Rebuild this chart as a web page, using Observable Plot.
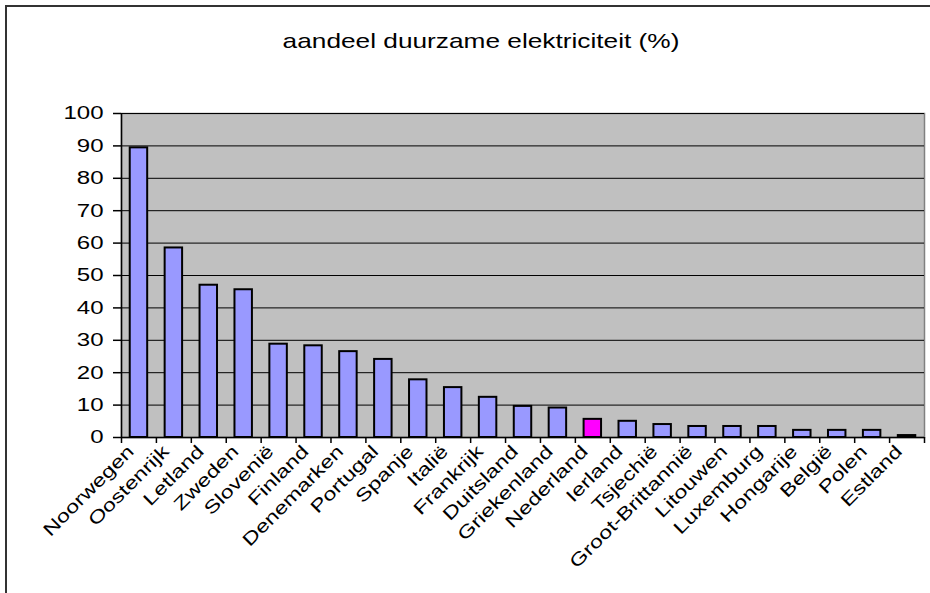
<!DOCTYPE html>
<html>
<head>
<meta charset="utf-8">
<script src="https://cdn.jsdelivr.net/npm/d3@7"></script>
<script src="https://cdn.jsdelivr.net/npm/@observablehq/plot@0.6"></script>
<style>
  html, body { margin: 0; padding: 0; background: #fff; overflow: hidden; }
  #wrap { position: relative; width: 930px; height: 593px; }
  #border { position: absolute; left: 5px; top: 5px; width: 1000px; height: 1000px;
            border-left: 2px solid #333; border-top: 2px solid #333; }
  #chart { position: absolute; left: 0; top: 0; }
</style>
</head>
<body>
<div id="wrap"><div id="border"></div><div id="chart"></div></div>
<script>
const title = "aandeel duurzame elektriciteit (%)";
const countries = ["Noorwegen","Oostenrijk","Letland","Zweden","Slovenië","Finland","Denemarken","Portugal","Spanje","Italië","Frankrijk","Duitsland","Griekenland","Nederland","Ierland","Tsjechië","Groot-Brittannië","Litouwen","Luxemburg","Hongarije","België","Polen","Estland"];
const values = [89.4, 58.5, 47.0, 45.6, 28.8, 28.3, 26.5, 24.1, 17.8, 15.4, 12.4, 9.6, 9.1, 5.6, 5.0, 4.0, 3.4, 3.4, 3.4, 2.2, 2.2, 2.2, 0.6];
const highlighted = ["Nederland"];
const yTicks = [0, 10, 20, 30, 40, 50, 60, 70, 80, 90, 100];

const data = countries.map((c, i) => ({country: c, value: values[i]}));

const W = 930, H = 593;
const mL = 121, mR = 6, mT = 113, mB = 156;
const n = countries.length;
const step = (W - mL - mR) / n;
const font = "'Liberation Sans', Arial, sans-serif";

const chart = Plot.plot({
  width: W, height: H,
  marginLeft: mL, marginRight: mR, marginTop: mT, marginBottom: mB,
  style: {fontFamily: font, fontSize: "17px", color: "#000", background: "transparent", overflow: "visible"},
  x: {type: "band", domain: countries, padding: 0.5, round: false,
      range: [mL - step / 4, W - mR + step / 4], label: null},
  y: {domain: [0, 100], ticks: yTicks, label: null},
  marks: [
    Plot.frame({fill: "#C0C0C0", stroke: "#808080", strokeWidth: 1.5}),
    Plot.ruleY(yTicks.filter(d => d > 0), {stroke: "#000", strokeWidth: 1}),
    Plot.barY(data.filter(d => !highlighted.includes(d.country)), {x: "country", y: "value", fill: "#9999FF", stroke: "#000", strokeWidth: 2}),
    Plot.barY(data.filter(d => highlighted.includes(d.country)), {x: "country", y: "value", fill: "#FF00FF", stroke: "#000", strokeWidth: 2}),
    Plot.ruleY([0], {stroke: "#000", strokeWidth: 1.5}),
    Plot.ruleX([countries[0]], {x: d => d, dx: -step / 2, stroke: "#000", strokeWidth: 1.5}),
    Plot.ruleX(countries, {x: d => d, dx: -step / 2, y1: 0, y2: 0, insetBottom: -6, stroke: "#000", strokeWidth: 1.5}),
    Plot.ruleX([countries[n - 1]], {x: d => d, dx: step / 2, y1: 0, y2: 0, insetBottom: -6, stroke: "#000", strokeWidth: 1.5}),
    Plot.axisY({ticks: yTicks, tickSize: 8, tickPadding: 10, fontSize: 18.5, stroke: "#000", strokeWidth: 1.5}),
    Plot.axisX({tickRotate: -45, tickSize: 0, tickPadding: 11, dx: -8, fontSize: 18}),
    Plot.text([title], {frameAnchor: "top", lineAnchor: "middle", dx: -42, dy: -72, fontSize: 21, fill: "#000"})
  ]
});
document.getElementById("chart").appendChild(chart);

function stretch(el, s) {
  const L = el.getComputedTextLength();
  if (L > 0) {
    el.setAttribute("textLength", L * s);
    el.setAttribute("lengthAdjust", "spacingAndGlyphs");
  }
}
d3.select(chart).selectAll("[aria-label='y-axis tick label'] text").each(function() { stretch(this, 1.3); });
d3.select(chart).selectAll("[aria-label='x-axis tick label'] text").each(function() { stretch(this, 1.3); });
d3.select(chart).selectAll("[aria-label='text'] text").each(function() { stretch(this, 1.25); });
</script>
</body>
</html>
